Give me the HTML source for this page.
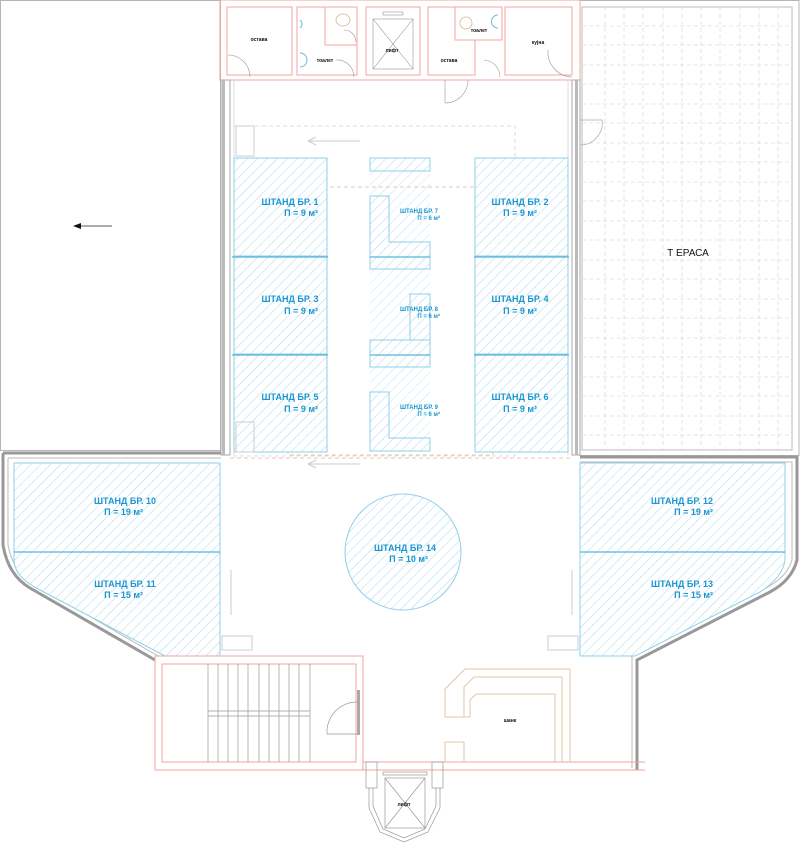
<!DOCTYPE html>
<html><head><meta charset="utf-8"><style>
html,body{margin:0;padding:0;background:#fff;}
svg{display:block;font-family:"Liberation Sans",sans-serif;}
.b{fill:#1a96d2;font-weight:bold;font-size:9px;}
.bs{fill:#1a96d2;font-weight:bold;font-size:6px;}
.k{fill:#111;font-weight:bold;font-size:5px;}
</style></head><body>
<svg width="800" height="845" viewBox="0 0 800 845" xmlns="http://www.w3.org/2000/svg">
<defs>
<pattern id="h" width="7" height="7" patternUnits="userSpaceOnUse" patternTransform="rotate(45)">
<rect width="7" height="7" fill="#fff"/>
<line x1="0" y1="0" x2="0" y2="7" stroke="#a9d9ef" stroke-width="1"/>
</pattern>
</defs>
<!-- left terrace -->
<rect x="0.5" y="0.5" width="220" height="450" fill="none" stroke="#b5b5b5"/>
<line x1="75" y1="226" x2="112" y2="226" stroke="#222" stroke-width="0.8"/>
<path d="M73 226 L81 223 L81 229Z" fill="#111"/>
<!-- right terrace with grid -->
<rect x="580" y="0.5" width="219" height="455" fill="none" stroke="#b5b5b5"/>
<rect x="582" y="7" width="210" height="443" fill="none" stroke="#bbb"/>
<g stroke="#ddd" stroke-dasharray="4,3" stroke-width="0.8">
<line x1="605" y1="7" x2="605" y2="450"/><line x1="624" y1="7" x2="624" y2="450"/><line x1="643" y1="7" x2="643" y2="450"/><line x1="663" y1="7" x2="663" y2="450"/><line x1="682" y1="7" x2="682" y2="450"/><line x1="701" y1="7" x2="701" y2="450"/><line x1="720" y1="7" x2="720" y2="450"/><line x1="740" y1="7" x2="740" y2="450"/><line x1="759" y1="7" x2="759" y2="450"/><line x1="778" y1="7" x2="778" y2="450"/>
<line x1="582" y1="26" x2="792" y2="26"/><line x1="582" y1="45" x2="792" y2="45"/><line x1="582" y1="65" x2="792" y2="65"/><line x1="582" y1="84" x2="792" y2="84"/><line x1="582" y1="104" x2="792" y2="104"/><line x1="582" y1="123" x2="792" y2="123"/><line x1="582" y1="143" x2="792" y2="143"/><line x1="582" y1="162" x2="792" y2="162"/><line x1="582" y1="182" x2="792" y2="182"/><line x1="582" y1="201" x2="792" y2="201"/><line x1="582" y1="221" x2="792" y2="221"/><line x1="582" y1="240" x2="792" y2="240"/><line x1="582" y1="260" x2="792" y2="260"/><line x1="582" y1="279" x2="792" y2="279"/><line x1="582" y1="299" x2="792" y2="299"/><line x1="582" y1="318" x2="792" y2="318"/><line x1="582" y1="338" x2="792" y2="338"/><line x1="582" y1="357" x2="792" y2="357"/><line x1="582" y1="377" x2="792" y2="377"/><line x1="582" y1="396" x2="792" y2="396"/><line x1="582" y1="416" x2="792" y2="416"/><line x1="582" y1="435" x2="792" y2="435"/>
</g>
<text x="688" y="256" font-size="10" fill="#111" text-anchor="middle">Т ЕРАСА</text>
<path d="M580 120 L602 120 A22 22 0 0 1 580 145" fill="none" stroke="#aaa" stroke-width="0.7"/>
<!-- top service block -->
<rect x="220" y="0" width="360" height="80" fill="none" stroke="#f5a3a3"/>
<g fill="none" stroke="#f5a3a3" stroke-width="1">
<rect x="227" y="7" width="65" height="68"/>
<path d="M297 7 H357 V75 H297Z"/><path d="M325 7 V45 H357"/>
<rect x="366" y="7" width="54" height="68"/>
<path d="M428 7 H455 V40 H475 V75 H428Z"/><path d="M455 7 H502 V40 H475"/>
<rect x="505" y="7" width="67" height="68"/>
</g>
<g fill="none" stroke="#999" stroke-width="0.6">
<rect x="373" y="19" width="40" height="50"/><line x1="373" y1="19" x2="413" y2="69"/><line x1="413" y1="19" x2="373" y2="69"/>
<rect x="383" y="12" width="20" height="3"/>
<path d="M228 55 A22 22 0 0 1 250 77"/><path d="M336 60 A17 17 0 0 1 354 77"/><path d="M344 30 A12 12 0 0 1 356 42"/>
<path d="M445 80 L445 103 A23 23 0 0 0 468 80"/><path d="M484 60 A17 17 0 0 1 500 77"/><path d="M548 50 A25 25 0 0 0 572 77"/>
</g>
<ellipse cx="343" cy="20" rx="7" ry="6" fill="none" stroke="#d9b08a" stroke-width="0.8"/>
<ellipse cx="466" cy="23" rx="6" ry="6" fill="none" stroke="#d9b08a" stroke-width="0.8"/>
<path d="M300 20 A5 5 0 0 1 300 28" fill="none" stroke="#6cb8dc"/><path d="M300 53 A7 7 0 0 1 300 67" fill="none" stroke="#6cb8dc"/><path d="M498 15 A6 6 0 0 0 498 28" fill="none" stroke="#6cb8dc"/>
<text x="259" y="41" class="k" text-anchor="middle">остава</text>
<text x="325" y="62" class="k" text-anchor="middle">тоалет</text>
<text x="392" y="52" class="k" text-anchor="middle">лифт</text>
<text x="449" y="62" class="k" text-anchor="middle">остава</text>
<text x="479" y="32" class="k" text-anchor="middle">тоалет</text>
<text x="538" y="44" class="k" text-anchor="middle">кујна</text>
<!-- hall walls -->
<rect x="221" y="80" width="9" height="375" fill="#fff" stroke="#aaa"/>
<rect x="222" y="80" width="3" height="375" fill="#bbb"/>
<rect x="572" y="80" width="8" height="375" fill="#fff" stroke="#aaa"/>
<rect x="575" y="80" width="3" height="375" fill="#bbb"/>
<line x1="234" y1="80" x2="234" y2="455" stroke="#ddd"/><line x1="568" y1="80" x2="568" y2="455" stroke="#ddd"/>
<!-- middle hatch background -->
<rect x="370" y="158" width="60" height="294" fill="url(#h)" opacity="0.7"/>
<!-- dashed paths -->
<rect x="234" y="126" width="281" height="330" fill="none" stroke="#ddd" stroke-dasharray="4,3"/>
<rect x="288" y="187" width="205" height="268" fill="none" stroke="#e8c6a8" stroke-dasharray="4,3"/>
<line x1="230" y1="458" x2="572" y2="458" stroke="#e8c6a8" stroke-dasharray="4,3"/>
<path d="M308 141 H360 M308 141 l8 -4 M308 141 l8 4" stroke="#ccc" fill="none"/>
<path d="M308 464 H360 M308 464 l8 -4 M308 464 l8 4" stroke="#ccc" fill="none"/>
<!-- stands 1-6 -->
<g fill="url(#h)" stroke="#8fcfe8" stroke-width="1">
<rect x="234" y="158" width="93" height="98"/><rect x="234" y="257" width="93" height="97"/><rect x="234" y="355" width="93" height="97"/>
<rect x="475" y="158" width="93" height="98"/><rect x="475" y="257" width="93" height="97"/><rect x="475" y="355" width="93" height="97"/>
<rect x="370" y="158" width="60" height="13"/>
<path d="M370 196 H389 V242 H430 V269 H370Z"/>
<path d="M410 294 H430 V340 H410Z"/>
<path d="M370 340 H430 V367 H370Z"/>
<path d="M370 392 H389 V438 H430 V451 H370Z"/>
</g>
<g stroke="#56b4de" stroke-width="1.2">
<line x1="232" y1="257" x2="328" y2="257"/><line x1="232" y1="355" x2="328" y2="355"/>
<line x1="474" y1="257" x2="569" y2="257"/><line x1="474" y1="355" x2="569" y2="355"/>
<line x1="370" y1="257" x2="430" y2="257"/><line x1="370" y1="355" x2="430" y2="355"/>
</g>
<text x="290" y="205" class="b" text-anchor="middle">ШТАНД БР. 1</text><text x="318" y="216" class="b" text-anchor="end">П = 9 м²</text>
<text x="290" y="302" class="b" text-anchor="middle">ШТАНД БР. 3</text><text x="318" y="314" class="b" text-anchor="end">П = 9 м²</text>
<text x="290" y="400" class="b" text-anchor="middle">ШТАНД БР. 5</text><text x="318" y="412" class="b" text-anchor="end">П = 9 м²</text>
<text x="520" y="205" class="b" text-anchor="middle">ШТАНД БР. 2</text><text x="537" y="216" class="b" text-anchor="end">П = 9 м²</text>
<text x="520" y="302" class="b" text-anchor="middle">ШТАНД БР. 4</text><text x="537" y="314" class="b" text-anchor="end">П = 9 м²</text>
<text x="520" y="400" class="b" text-anchor="middle">ШТАНД БР. 6</text><text x="537" y="412" class="b" text-anchor="end">П = 9 м²</text>
<text x="419" y="213" class="bs" text-anchor="middle">ШТАНД БР. 7</text><text x="440" y="220" class="bs" text-anchor="end">П = 6 м²</text>
<text x="419" y="311" class="bs" text-anchor="middle">ШТАНД БР. 8</text><text x="440" y="318" class="bs" text-anchor="end">П = 6 м²</text>
<text x="419" y="409" class="bs" text-anchor="middle">ШТАНД БР. 9</text><text x="440" y="416" class="bs" text-anchor="end">П = 6 м²</text>
<!-- lower wings walls -->
<path d="M3 453 H221 M3 453 V545 Q8 575 30 588 L155 660" fill="none" stroke="#999" stroke-width="3"/>
<path d="M8 458 H221 M8 458 V545 Q13 572 34 584 L158 656" fill="none" stroke="#bbb" stroke-width="1"/>
<path d="M580 457 H797 V560 Q792 580 770 592 L637 660 V770" fill="none" stroke="#999" stroke-width="3"/>
<path d="M580 462 H792 V560 Q787 577 766 588 L632 655 V768" fill="none" stroke="#bbb" stroke-width="1"/>
<!-- stands 10-14 -->
<g fill="url(#h)" stroke="#8fcfe8" stroke-width="1">
<rect x="14" y="463" width="206" height="89"/>
<path d="M14 552 H220 V656 H165 L40 590 Q14 577 14 560Z"/>
<rect x="580" y="463" width="205" height="89"/>
<path d="M580 552 H785 V560 Q783 577 760 592 L635 656 H580Z"/>
<circle cx="403" cy="552" r="58"/>
</g>
<line x1="14" y1="552" x2="220" y2="552" stroke="#56b4de" stroke-width="1.2"/>
<line x1="580" y1="552" x2="785" y2="552" stroke="#56b4de" stroke-width="1.2"/>
<text x="125" y="504" class="b" text-anchor="middle">ШТАНД БР. 10</text><text x="143" y="515" class="b" text-anchor="end">П = 19 м²</text>
<text x="125" y="587" class="b" text-anchor="middle">ШТАНД БР. 11</text><text x="143" y="598" class="b" text-anchor="end">П = 15 м²</text>
<text x="682" y="504" class="b" text-anchor="middle">ШТАНД БР. 12</text><text x="713" y="515" class="b" text-anchor="end">П = 19 м²</text>
<text x="682" y="587" class="b" text-anchor="middle">ШТАНД БР. 13</text><text x="713" y="598" class="b" text-anchor="end">П = 15 м²</text>
<text x="405" y="551" class="b" text-anchor="middle">ШТАНД БР. 14</text><text x="428" y="562" class="b" text-anchor="end">П = 10 м²</text>
<g stroke="#ccc" fill="none"><rect x="222" y="636" width="30" height="14"/><rect x="548" y="636" width="30" height="14"/>
<line x1="231" y1="570" x2="231" y2="615"/><line x1="572" y1="570" x2="572" y2="615"/>
<rect x="236" y="126" width="18" height="30"/><rect x="236" y="422" width="18" height="30"/></g>
<!-- bottom stair room -->
<rect x="155" y="656" width="208" height="114" fill="none" stroke="#f5a3a3"/>
<rect x="162" y="664" width="194" height="98" fill="none" stroke="#f5a3a3"/>
<g stroke="#999" stroke-width="0.7">
<line x1="208" y1="664" x2="208" y2="762"/><line x1="218" y1="664" x2="218" y2="762"/><line x1="228" y1="664" x2="228" y2="762"/><line x1="238" y1="664" x2="238" y2="762"/><line x1="248" y1="664" x2="248" y2="762"/><line x1="259" y1="664" x2="259" y2="762"/><line x1="269" y1="664" x2="269" y2="762"/><line x1="279" y1="664" x2="279" y2="762"/><line x1="289" y1="664" x2="289" y2="762"/><line x1="299" y1="664" x2="299" y2="762"/><line x1="310" y1="664" x2="310" y2="762"/>
<line x1="208" y1="711" x2="310" y2="711"/><line x1="208" y1="716" x2="310" y2="716"/>
</g>
<path d="M358 702 A30 30 0 0 0 327 734 H358" fill="none" stroke="#999" stroke-width="0.7"/>
<rect x="357" y="690" width="3" height="45" fill="#aaa"/>
<!-- shank -->
<line x1="363" y1="762" x2="645" y2="762" stroke="#f5a3a3"/>
<line x1="363" y1="770" x2="645" y2="770" stroke="#f5a3a3"/>
<g fill="none" stroke="#e0c7aa" stroke-width="1">
<path d="M445 717 V689 L465 669 H570 V762"/><path d="M464 717 V687 L474 677 H562 V762"/><path d="M470 717 V700 L476 694 H555 V762"/><line x1="445" y1="717" x2="470" y2="717"/>
<path d="M445 762 V742 H464 V762"/>
</g>
<text x="510" y="722" class="k" text-anchor="middle">шанк</text>
<!-- bottom lift -->
<g fill="none" stroke="#999" stroke-width="0.7">
<rect x="366" y="762" width="11" height="26"/><rect x="432" y="762" width="11" height="26"/>
<path d="M369 788 V808 L380 832 L404 842 L428 832 L440 808 V788"/>
<path d="M373 788 V806 L383 829 L404 838 L425 829 L436 806 V788"/>
<rect x="385" y="778" width="40" height="50"/><line x1="385" y1="778" x2="425" y2="828"/><line x1="425" y1="778" x2="385" y2="828"/>
<rect x="383" y="772" width="44" height="3"/>
</g>
<text x="404" y="806" class="k" text-anchor="middle">лифт</text>
</svg>
</body></html>
